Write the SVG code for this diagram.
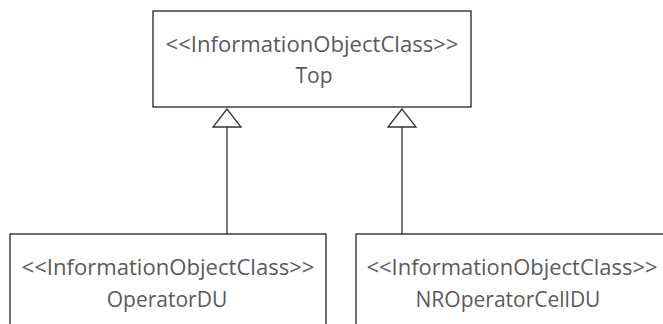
<svg xmlns="http://www.w3.org/2000/svg" width="663" height="324" viewBox="0 0 663 324">
<style>
.box{fill:#fff;stroke:#222;stroke-width:1.3}
.t{font-family:"Open Sans","Liberation Sans",sans-serif;font-size:21px;fill:#5a5a5a;text-anchor:middle}
.c{stroke:#333;stroke-width:1.3;fill:none}
.h{fill:#fff;stroke:#333;stroke-width:1.3}
</style>
<rect width="663" height="324" fill="#fff"/>
<g id="connectors">
<line class="c" x1="227" y1="127" x2="227" y2="234"/>
<polygon class="h" points="227,109 213,127 241,127"/>
<line class="c" x1="402" y1="127" x2="402" y2="234"/>
<polygon class="h" points="402,109 388,127 416,127"/>
</g>
<g id="top">
<rect class="box" x="153" y="11" width="318" height="96"/>
<text class="t" x="312" y="52" textLength="293" lengthAdjust="spacingAndGlyphs">&lt;&lt;InformationObjectClass&gt;&gt;</text>
<text class="t" x="314" y="83">Top</text>
</g>
<g id="operatorDU">
<rect class="box" x="10" y="234" width="316" height="100"/>
<text class="t" x="168" y="275" textLength="293" lengthAdjust="spacingAndGlyphs">&lt;&lt;InformationObjectClass&gt;&gt;</text>
<text class="t" x="167" y="307">OperatorDU</text>
</g>
<g id="nrOperatorCellDU">
<rect class="box" x="356" y="234" width="320" height="100"/>
<text class="t" x="512" y="275" textLength="291" lengthAdjust="spacingAndGlyphs">&lt;&lt;InformationObjectClass&gt;&gt;</text>
<text class="t" x="508" y="307">NROperatorCellDU</text>
</g>
</svg>
